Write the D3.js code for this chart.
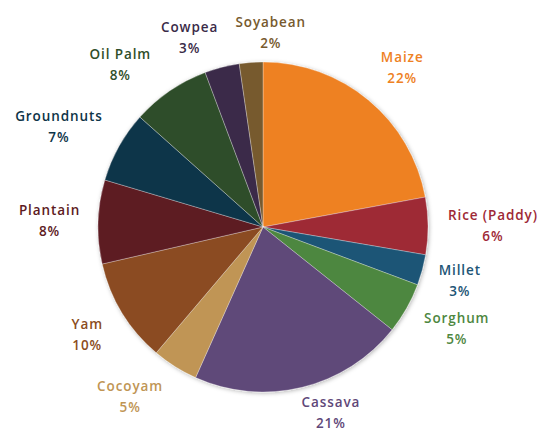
<!DOCTYPE html>
<html lang="en">
<head>
<meta charset="UTF-8">
<title>Crop shares</title>
<script src="https://d3js.org/d3.v7.min.js"></script>
<style>
  body { margin: 0; background: #fff; }
  .label { font-family: "Open Sans", sans-serif; font-weight: 600; font-size: 13.5px; letter-spacing: 0.9px; }
</style>
</head>
<body>
<svg width="542" height="432"></svg>
<script>
// slices clockwise from 12 o'clock
const crops = ["Maize", "Rice (Paddy)", "Millet", "Sorghum", "Cassava", "Cocoyam",
               "Yam", "Plantain", "Groundnuts", "Oil Palm", "Cowpea", "Soyabean"];
const shares = [22.1, 5.6, 3.0, 5.0, 21.0, 4.5, 10.2, 8.2, 7.0, 7.7, 3.4, 2.3];
const colors = ["#ee8123", "#9e2936", "#1d5576", "#4e873f", "#5f4879", "#c09554",
                "#8b4c21", "#5d1a22", "#0e3448", "#2f4e29", "#3a2b48", "#775a2e"];

// manual label nudges where the chart moved labels apart
const nudge = {
    "Maize": [4, 0],
    "Rice (Paddy)": [-5, 0],
    "Millet": [-7, 0],
    "Cassava": [16, -16],
    "Cocoyam": [-14, -6],
    "Plantain": [7, 0],
    "Oil Palm": [-18, 8],
    "Cowpea": [-19, 11],
    "Soyabean": [24, 12]
};

const width = 542, height = 432;
const cx = 263, cy = 227, r = 165;

const svg = d3.select("svg");

const defs = svg.append("defs");
const f = defs.append("filter").attr("id", "shadow")
    .attr("x", "-10%").attr("y", "-10%").attr("width", "120%").attr("height", "120%");
f.append("feDropShadow")
    .attr("dx", 1).attr("dy", 1)
    .attr("stdDeviation", 2)
    .attr("flood-color", "#000")
    .attr("flood-opacity", 0.3);

const data = crops.map((c, i) => ({ name: c, value: shares[i], color: colors[i] }));

const pie = d3.pie().sort(null).value(d => d.value);
const arcs = pie(data);
const arc = d3.arc().innerRadius(0).outerRadius(r);

const g = svg.append("g").attr("transform", `translate(${cx},${cy})`);

g.append("g")
    .attr("filter", "url(#shadow)")
    .selectAll("path")
    .data(arcs)
    .join("path")
    .attr("d", arc)
    .attr("fill", d => d.data.color)
    .attr("stroke", "#fff")
    .attr("stroke-opacity", 0.5)
    .attr("stroke-width", 0.6);

const labels = g.selectAll("text.label")
    .data(arcs)
    .join("text")
    .attr("class", "label")
    .attr("fill", d => d.data.color)
    .attr("text-anchor", "middle");

labels.append("tspan")
    .attr("x", 0)
    .attr("dy", -5.5)
    .text(d => d.data.name);
labels.append("tspan")
    .attr("x", 0)
    .attr("dy", 21)
    .text(d => Math.round(d.data.value) + "%");

// place each label just outside its slice, pushed out by half its box
labels.each(function (d) {
    const a = (d.startAngle + d.endAngle) / 2;
    const w = this.getBBox().width, h = 34;
    const R0 = r + 25;
    let x = R0 * Math.sin(a) + (w / 2) * Math.sin(a);
    let y = -R0 * Math.cos(a) - (h / 2) * Math.cos(a);
    const n = nudge[d.data.name] || [0, 0];
    x += n[0]; y += n[1];
    d3.select(this).attr("transform", `translate(${x},${y})`);
});
</script>
</body>
</html>
